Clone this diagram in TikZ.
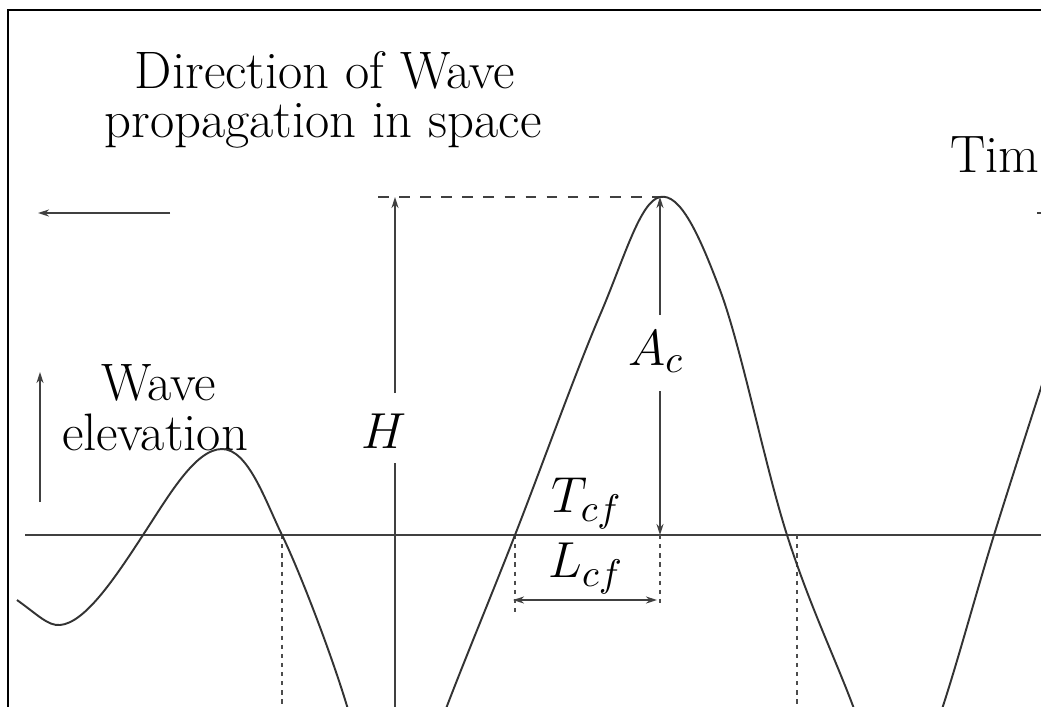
\documentclass[tikz,border=0pt]{standalone}
\usepackage{amsmath}
\usetikzlibrary{arrows.meta}

\begin{document}
\begin{tikzpicture}[x=0.1mm,y=-0.1mm,
    lbl/.style={font=\fontsize{15}{14}\selectfont,inner sep=0pt,anchor=base},
    arr/.style={-{Stealth[length=1.1mm,width=0.7mm]}},
    dblarr/.style={{Stealth[length=1.1mm,width=0.7mm]}-{Stealth[length=1.1mm,width=0.7mm]}},
    wavepen/.style={line width=0.55pt,black!80},
    dimpen/.style={line width=0.5pt,black!75},
    dotpen/.style={line width=0.6pt,black!70,dash pattern=on 1.2pt off 1.4pt}]
    \useasboundingbox (0,0) rectangle (1041,706);
    \clip (0,0) rectangle (1041,706);
    % frame
    \draw[line width=0.8pt] (8,900) -- (8,10) -- (1100,10);
    % texts
    \node[lbl] (dirA) at (325,88) {Direction of Wave};
    \node[lbl] (dirB) at (323,137) {propagation in space};
    \node[lbl,anchor=base east] (time) at (1040,172) {Tim};
    \node[lbl] (waveA) at (159,400) {Wave};
    \node[lbl] (waveB) at (155,450) {elevation};
    \node[lbl] (hgt) at (384,448) {$H$};
    \node[lbl] (amp) at (656,365) {$A_c$};
    \node[lbl] (tcf) at (587,512) {$T_{cf}$};
    \node[lbl] (lcf) at (586,577) {$L_{cf}$};
    % points
    \coordinate (crest) at (660,197);
    \coordinate (still) at (660,535);
    \coordinate (hdash) at (378,197);
    \coordinate (htop) at (395,197);
    \coordinate (hbot) at (395,760);
    \coordinate (zl) at (515,535);
    % direction arrows
    \draw[dimpen,arr] (170,213) -- (38,213);
    \draw[dimpen,arr] (1037,213) -- (1170,213);
    \draw[dimpen,arr] (40,502) -- (40,372);
    % still water level
    \draw[line width=0.7pt,black!75] (25,535) -- (1100,535);
    % dashed crest level
    \draw[dimpen,dashed] (hdash) -- (crest);
    % height H
    \draw[dimpen] (hbot) -- ([yshift=-1.5mm]hgt.base -| htop);
    \draw[dimpen,arr] ([yshift=5.5mm]hgt.base -| htop) -- (htop);
    % crest height A_c
    \draw[dimpen,arr] ([yshift=5mm]amp.base -| crest) -- (crest);
    \draw[dimpen,arr] ([yshift=-2.6mm]amp.base -| crest) -- (still);
    % dotted verticals
    \draw[dotpen] (282,535) -- (282,720);
    \draw[dotpen] (zl) -- (515,617);
    \draw[dotpen] (still) -- (660,607);
    \draw[dotpen] (797,535) -- (797,720);
    % L_cf
    \draw[dimpen,dblarr] (513,600) -- (657,600);
    % wave profile
    \draw[wavepen] (17,600) .. controls (38,615) and (48,626) .. (60,625)
      .. controls (85,623) and (115,578) .. (143,535)
      .. controls (168,497) and (195,449) .. (222,449)
      .. controls (248,449) and (265,500) .. (282,535)
      .. controls (299,570) and (330,650) .. (347,706)
      .. controls (360,750) and (380,840) .. (398,840);
    \draw[wavepen] plot[smooth,tension=0.6] coordinates {
      (398,840) (447,706) (515,535) (600,315) (660,197) (720,290) (787,535)
      (853,706) (898,830) (943,706) (994,535) (1050,360)};
\end{tikzpicture}
\end{document}
